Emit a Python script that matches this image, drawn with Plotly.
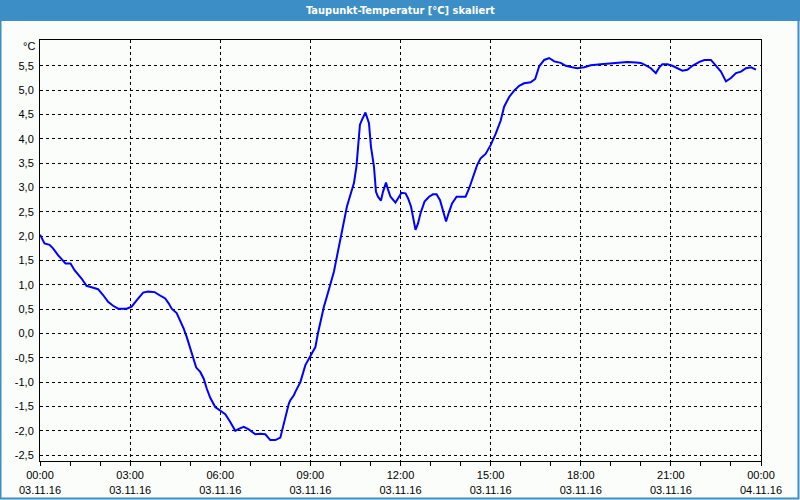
import plotly.graph_objects as go

times = ["00:00","00:09","00:19","00:26","00:36","00:46","00:51","01:01","01:09","01:23",
         "01:33","01:43","01:56","02:06","02:16","02:26","02:36","02:53","03:03","03:13",
         "03:26","03:36","03:49","04:03","04:10","04:17","04:23","04:33","04:40","04:47",
         "04:53","05:00","05:07","05:12","05:20","05:27","05:33","05:40","05:50","06:00",
         "06:10","06:20","06:30","06:37","06:47","06:57","07:10","07:20","07:30","07:40",
         "07:50","08:00","08:07","08:13","08:17","08:20","08:27","08:30","08:40","08:50",
         "09:00","09:10","09:15","09:20","09:27","09:33","09:40","09:47","09:53","10:00",
         "10:07","10:13","10:20","10:27","10:32","10:35","10:39","10:43","10:50","10:57",
         "11:01","11:07","11:11","11:15","11:21","11:25","11:31","11:35","11:40","11:50",
         "11:57","12:02","12:10","12:15","12:21","12:25","12:30","12:35","12:40","12:48",
         "12:57","13:05","13:12","13:19","13:25","13:31","13:37","13:43","13:52","14:10",
         "14:17","14:25","14:33","14:40","14:50","15:00","15:10","15:20","15:27","15:37",
         "15:47","15:57","16:07","16:20","16:29","16:37","16:47","16:57","17:07","17:20",
         "17:30","17:43","17:53","18:07","18:20","18:40","19:07","19:33","19:50","20:00",
         "20:10","20:20","20:30","20:37","20:43","20:53","21:03","21:13","21:23","21:33",
         "21:43","21:57","22:07","22:20","22:30","22:40","22:50","23:00","23:10","23:20",
         "23:30","23:40","23:50"]

dewpoint = [2.03,1.85,1.82,1.75,1.61,1.50,1.44,1.44,1.30,1.13,
            0.98,0.95,0.91,0.79,0.65,0.57,0.51,0.51,0.55,0.68,
            0.84,0.86,0.85,0.76,0.72,0.62,0.51,0.42,0.27,0.10,
            -0.07,-0.31,-0.52,-0.70,-0.79,-0.93,-1.13,-1.32,-1.51,-1.58,
            -1.66,-1.82,-2.00,-1.96,-1.92,-1.97,-2.07,-2.06,-2.07,-2.19,
            -2.19,-2.14,-1.85,-1.57,-1.44,-1.37,-1.27,-1.20,-1.00,-0.65,
            -0.45,-0.28,0.00,0.24,0.55,0.76,1.00,1.27,1.58,1.92,
            2.26,2.61,2.85,3.09,3.43,3.77,4.29,4.39,4.54,4.32,
            3.84,3.43,2.91,2.81,2.73,2.91,3.10,2.96,2.81,2.69,
            2.81,2.89,2.88,2.78,2.61,2.40,2.13,2.26,2.47,2.71,
            2.81,2.86,2.86,2.74,2.50,2.30,2.50,2.67,2.81,2.81,
            2.98,3.22,3.46,3.60,3.69,3.87,4.10,4.37,4.66,4.86,
            4.99,5.09,5.14,5.16,5.23,5.49,5.62,5.66,5.59,5.56,
            5.50,5.47,5.45,5.47,5.51,5.53,5.56,5.58,5.57,5.56,
            5.51,5.45,5.35,5.47,5.53,5.53,5.50,5.45,5.40,5.42,
            5.50,5.58,5.62,5.62,5.50,5.38,5.18,5.25,5.35,5.38,
            5.45,5.47,5.42]

x_tick_vals = ["2016-11-03 00:00","2016-11-03 03:00","2016-11-03 06:00","2016-11-03 09:00",
               "2016-11-03 12:00","2016-11-03 15:00","2016-11-03 18:00","2016-11-03 21:00",
               "2016-11-04 00:00"]
x_tick_text = ["00:00<br>03.11.16","03:00<br>03.11.16","06:00<br>03.11.16","09:00<br>03.11.16",
               "12:00<br>03.11.16","15:00<br>03.11.16","18:00<br>03.11.16","21:00<br>03.11.16",
               "00:00<br>04.11.16"]
y_tick_vals = [-2.5,-2.0,-1.5,-1.0,-0.5,0.0,0.5,1.0,1.5,2.0,2.5,3.0,3.5,4.0,4.5,5.0,5.5]
y_tick_text = ["-2,5","-2,0","-1,5","-1,0","-0,5","0,0","0,5","1,0","1,5","2,0","2,5",
               "3,0","3,5","4,0","4,5","5,0","5,5"]

title_text = "Taupunkt-Temperatur [°C] skaliert"
unit_text = "°C"

W, H = 800, 500
ML, MR, MT, MB = 40, 39, 40, 39
PW, PH = W - ML - MR, H - MT - MB

def px(xp):
    return (xp - ML) / PW

def py(yp):
    return 1 - (yp - MT) / PH

BLUE = "#3C8EC6"
BG = "#FBFDFB"
font_family = "Liberation Sans, Arial, sans-serif"

fig = go.Figure()
fig.add_trace(go.Scatter(
    x=["2016-11-03 " + t for t in times], y=dewpoint, mode="lines",
    line=dict(color="#0000FF", width=2), hoverinfo="skip", showlegend=False))

fig.update_layout(
    width=W, height=H,
    margin=dict(l=ML, r=MR, t=MT, b=MB, pad=0, autoexpand=False),
    paper_bgcolor=BG, plot_bgcolor=BG,
    font=dict(family=font_family, size=11, color="#000000"),
    xaxis=dict(
        type="date", range=["2016-11-03 00:00", "2016-11-04 00:00"],
        tickmode="array", tickvals=x_tick_vals, ticktext=x_tick_text,
        ticks="outside", ticklen=4, tickcolor="#000000", tickwidth=1,
        showgrid=True, gridcolor="#000000", gridwidth=1, griddash="3px,3px",
        showline=True, linecolor="#000000", linewidth=1, mirror=True,
        zeroline=False, tickangle=0, automargin=False,
        minor=dict(ticks="outside", ticklen=4, tickcolor="#000000",
                   dtick=3600000, tick0="2016-11-03 00:00", showgrid=False),
        fixedrange=True,
    ),
    yaxis=dict(
        range=[-2.62, 6.03],
        tickmode="array", tickvals=y_tick_vals, ticktext=y_tick_text,
        ticks="", showgrid=True, gridcolor="#000000", gridwidth=1, griddash="3px,3px",
        showline=True, linecolor="#000000", linewidth=1, mirror=True,
        zeroline=False, ticklabelstandoff=3, fixedrange=True, automargin=False,
    ),
    shapes=[
        dict(type="rect", xref="paper", yref="paper",
             x0=px(0), x1=px(W), y0=py(21), y1=py(0),
             fillcolor=BLUE, line=dict(width=0), layer="above"),
        dict(type="rect", xref="paper", yref="paper",
             x0=px(0.5), x1=px(W - 1.5), y0=py(H - 1.5), y1=py(0),
             fillcolor="rgba(0,0,0,0)", line=dict(color=BLUE, width=2), layer="above"),
    ],
    annotations=[
        dict(text="<b>" + title_text + "</b>", xref="paper", yref="paper",
             x=px(400), y=py(10.5), xanchor="center", yanchor="middle", showarrow=False,
             font=dict(family="DejaVu Sans Condensed, Liberation Sans Narrow, sans-serif",
                       size=11, color="#FFFFFF")),
        dict(text=unit_text, xref="paper", yref="paper",
             x=px(37), y=py(46), xanchor="right", yanchor="middle", showarrow=False,
             font=dict(family=font_family, size=11, color="#000000")),
    ],
)

fig.write_html("out.html", config={"displayModeBar": False})
